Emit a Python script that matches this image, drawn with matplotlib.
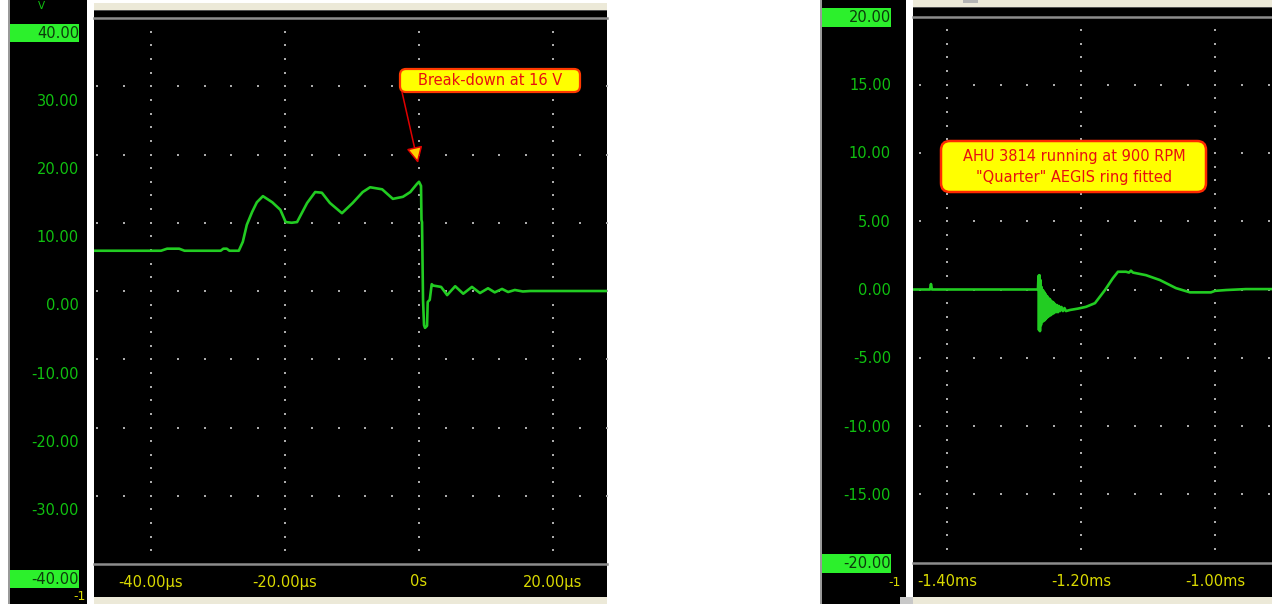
import numpy as np
import matplotlib
matplotlib.use("Agg")
import matplotlib.pyplot as plt
from matplotlib.patches import Rectangle, FancyBboxPatch
from matplotlib.transforms import blended_transform_factory, offset_copy

W, H = 1272, 604

# --- breakdown capture (time in µs, volts) ---
bd_time = [-48.5, -38.5, -37.6, -35.8, -35.0, -29.6, -29.2, -28.7, -28.3, -26.9,
           -26.3, -25.7, -24.9, -24.2, -23.3, -21.9, -20.7, -19.9, -19.0, -18.2,
           -16.7, -15.5, -14.5, -13.3, -11.5, -9.9, -8.4, -7.3, -5.5, -3.9,
           -2.4, -1.3, -0.3, 0.0, 0.3, 0.37, 0.45, 0.6, 0.75, 0.9,
           1.2, 1.3, 1.6, 1.9, 2.1, 3.3, 4.2, 5.4, 6.6, 7.9,
           9.1, 10.3, 11.3, 12.4, 13.3, 14.3, 15.5, 16.6, 28.1]
bd_volts = [5.9, 5.9, 6.2, 6.2, 5.9, 5.9, 6.2, 6.2, 5.9, 5.9,
            7.2, 9.7, 11.6, 13.0, 13.9, 13.0, 11.9, 10.1, 10.0, 10.1,
            12.9, 14.5, 14.4, 12.9, 11.4, 12.9, 14.5, 15.2, 14.9, 13.5,
            13.8, 14.5, 15.7, 16.0, 15.4, 10.4, 10.1, -1.3, -5.0, -5.4,
            -5.1, -1.6, -1.3, 1.0, 0.8, 0.6, -0.6, 0.7, -0.4, 0.6,
            -0.3, 0.4, -0.2, 0.3, -0.15, 0.15, -0.07, 0.0, 0.0]
bd_note = "Break-down at 16 V"
bd_note_tip = (-0.15, 18.75)

# --- AHU capture (time in ms, volts) ---
ahu_time = [-1.4507, -1.4254, -1.4239, -1.4224, -1.2642, -1.2634, -1.2627, -1.2619,
            -1.2612, -1.2604, -1.2597, -1.2587, -1.2578, -1.2567, -1.2558, -1.2548,
            -1.2537, -1.2527, -1.2516, -1.2506, -1.2496, -1.2485, -1.2475, -1.2463,
            -1.2451, -1.2439, -1.2427, -1.2415, -1.2403, -1.2388, -1.2373, -1.2358,
            -1.2343, -1.2328, -1.2313, -1.2291, -1.2269, -1.2246, -1.2224, -1.2164,
            -1.2045, -1.1925, -1.1791, -1.1642, -1.1522, -1.1448, -1.1328, -1.1284,
            -1.1254, -1.1224, -1.1030, -1.0821, -1.0582, -1.0373, -1.0179, -1.0060,
            -1.0000, -0.9836, -0.9537, -0.9149]
ahu_volts = [0.0, 0.0, 0.4, 0.0, 0.0, 1.0, -2.97, 1.05,
             -3.05, 0.69, -2.61, 0.18, -2.38, -0.04, -2.31, -0.19,
             -2.24, -0.34, -2.10, -0.48, -2.02, -0.63, -1.95, -0.70,
             -1.88, -0.85, -1.80, -0.92, -1.73, -1.06, -1.66, -1.14,
             -1.66, -1.21, -1.58, -1.28, -1.58, -1.36, -1.58, -1.50,
             -1.40, -1.27, -1.00, -0.04, 0.84, 1.30, 1.30, 1.24,
             1.38, 1.24, 1.05, 0.69, 0.10, -0.21, -0.21, -0.21,
             -0.10, -0.04, 0.03, 0.03]
ahu_note = ["AHU 3814 running at 900 RPM", "\"Quarter\" AEGIS ring fitted"]

# --- scales ---
left_yticks = [40, 30, 20, 10, 0, -10, -20, -30, -40]
left_xticks = [-40, -20, 0, 20]
left_xlabels = ["-40.00µs", "-20.00µs", "0s", "20.00µs"]
right_yticks = [20, 15, 10, 5, 0, -5, -10, -15, -20]
right_xticks = [-1.4, -1.2, -1.0]
right_xlabels = ["-1.40ms", "-1.20ms", "-1.00ms"]

TRACE = "#22CC22"
LABEL_GREEN = "#10C010"
HILITE = "#2CF02C"
XLABEL = "#DADA00"
BEIGE = "#ECE9D8"
DOT = "#ABABAB"

fig = plt.figure(figsize=(W / 100, H / 100), dpi=100)
fig.patch.set_facecolor("white")

# pixel-space layer for the window chrome
bg = fig.add_axes([0, 0, 1, 1], zorder=0)
bg.set_xlim(0, W)
bg.set_ylim(H, 0)
bg.axis("off")

fg = fig.add_axes([0, 0, 1, 1], zorder=5)
fg.set_xlim(0, W)
fg.set_ylim(H, 0)
fg.axis("off")
fg.patch.set_alpha(0)


def rect(x, y, w, h, color):
    bg.add_patch(Rectangle((x, y), w, h, color=color, lw=0))


def scope_axes(x0, y0, x1, y1):
    ax = fig.add_axes([x0 / W, 1 - y1 / H, (x1 - x0) / W, (y1 - y0) / H], zorder=2)
    ax.set_facecolor("black")
    for side in ("left", "right"):
        ax.spines[side].set_visible(False)
    for side in ("top", "bottom"):
        ax.spines[side].set_color("#8C8C8C")
        ax.spines[side].set_linewidth(1.8)
    ax.set_xticks([])
    ax.set_yticks([])
    return ax


def grid_dots(ax, xticks, ymajor, xstep, ystep):
    x0, x1 = ax.get_xlim()
    y0, y1 = ax.get_ylim()
    xs = np.arange(np.ceil(x0 / xstep) * xstep, x1, xstep)
    ys = np.arange(np.ceil(y0 / ystep) * ystep + ystep, y1 - ystep / 2, ystep)
    px, py = [], []
    for yv in ymajor:
        px.extend(xs)
        py.extend([yv] * len(xs))
    for xv in xticks:
        px.extend([xv] * len(ys))
        py.extend(ys)
    ax.scatter(px, py, s=2.6, color=DOT, marker="s", lw=0, zorder=1)


# ---------------- left window: breakdown ----------------
rect(8, 0, 1.5, H, "#9A9A9A")
rect(9.5, 0, 77.5, H, "black")
rect(94, 3, 513, 6.5, BEIGE)
rect(94, 9.5, 513, 1.8, "#505050")
rect(94, 11.3, 513, 586, "black")
rect(94, 597, 513, 7, BEIGE)

axL = scope_axes(94, 18, 607, 564)
axL.set_xlim(-48.51, 28.06)
axL.set_ylim(-40, 40)
grid_dots(axL, left_xticks, [30, 20, 10, 0, -10, -20, -30], 4, 2)
axL.plot(bd_time, bd_volts, color=TRACE, lw=1.9, solid_joinstyle="round", zorder=3)

# y scale strip (labels sit ~15 px below their grid lines)
tL = offset_copy(blended_transform_factory(bg.transData, axL.transData),
                 fig=fig, x=0, y=-15, units="dots")
for v in left_yticks:
    edge = v in (left_yticks[0], left_yticks[-1])
    if edge:
        fg.add_patch(Rectangle((10, v - 1.39), 69, 2.78, transform=tL,
                               color=HILITE, lw=0, clip_on=False))
    fg.text(79, v, f"{v:.2f}", transform=tL, ha="right", va="center",
            fontsize=10.5, color="#0C3A0C" if edge else LABEL_GREEN, clip_on=False)
fg.text(41, 6, "V", ha="center", va="center", fontsize=7.5, color=LABEL_GREEN)
fg.text(80, 597, "-1", ha="center", va="center", fontsize=9, color=XLABEL)

txL = blended_transform_factory(axL.transData, bg.transData)
for xv, lab in zip(left_xticks, left_xlabels):
    fg.text(xv, 582, lab, transform=txL, ha="center", va="center",
            fontsize=10.5, color=XLABEL)

# annotation
fg.add_patch(FancyBboxPatch((400, 69), 180, 23, boxstyle="round,pad=0,rounding_size=6",
                            facecolor="#FFFF00", edgecolor="#FF3A00", lw=1.6))
fg.text(490, 80.5, bd_note, ha="center", va="center", fontsize=10.5, color="#E81010")
fg.annotate("", xy=bd_note_tip, xycoords=axL.transData, xytext=(402, 92),
            textcoords="data",
            arrowprops=dict(arrowstyle="-|>,head_length=0.7,head_width=0.35",
                            facecolor="#FFD000", edgecolor="#E00000", lw=1.1,
                            shrinkA=0, shrinkB=0, mutation_scale=14))

# ---------------- right window: AHU ----------------
rect(820, 0, 1.5, H, "#9A9A9A")
rect(821.5, 0, 84.5, H, "black")
rect(913, 0, 359, 6.5, BEIGE)
rect(963, 0, 15, 3, "#B4B4B4")
rect(913, 6.5, 359, 1.8, "#505050")
rect(913, 8.3, 359, 589, "black")
rect(913, 597, 359, 7, BEIGE)
rect(900, 597, 13, 7, "#C8C8C8")

axR = scope_axes(913, 16.5, 1272, 562.5)
axR.set_xlim(-1.4507, -0.9149)
axR.set_ylim(-20, 20)
grid_dots(axR, right_xticks, [15, 10, 5, 0, -5, -10, -15], 0.04, 1)
axR.plot(ahu_time, ahu_volts, color=TRACE, lw=1.9, solid_joinstyle="round", zorder=3)

tR = offset_copy(blended_transform_factory(bg.transData, axR.transData),
                 fig=fig, x=0, y=-1, units="dots")
for v in right_yticks:
    edge = v in (right_yticks[0], right_yticks[-1])
    if edge:
        fg.add_patch(Rectangle((822, v - 0.66), 69, 1.32, transform=tR,
                               color=HILITE, lw=0, clip_on=False))
    fg.text(891, v, f"{v:.2f}", transform=tR, ha="right", va="center",
            fontsize=10.5, color="#0C3A0C" if edge else LABEL_GREEN, clip_on=False)
fg.text(895, 583, "-1", ha="center", va="center", fontsize=9, color=XLABEL)

txR = blended_transform_factory(axR.transData, bg.transData)
for xv, lab in zip(right_xticks, right_xlabels):
    fg.text(xv, 582, lab, transform=txR, ha="center", va="center",
            fontsize=10.5, color=XLABEL)

fg.add_patch(FancyBboxPatch((941, 141), 265, 51, boxstyle="round,pad=0,rounding_size=9",
                            facecolor="#FFFF00", edgecolor="#FF2A00", lw=1.8))
fg.text(1074, 157, ahu_note[0], ha="center", va="center", fontsize=10.5, color="#E81010")
fg.text(1074, 177.5, ahu_note[1], ha="center", va="center", fontsize=10.5, color="#E81010")

fig.savefig("out.png", dpi=100, facecolor="white")
